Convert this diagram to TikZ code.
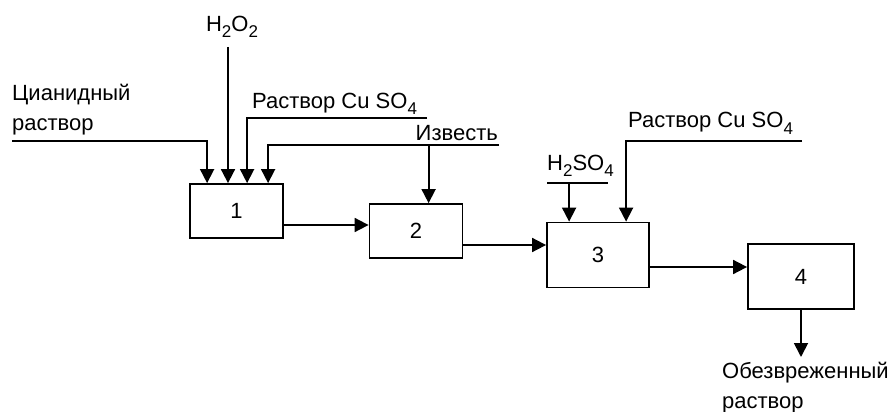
\documentclass[tikz,border=0pt]{standalone}
\usepackage{fontspec}
\setmainfont{Liberation Sans}
\usetikzlibrary{positioning,arrows.meta}
\newcommand{\lowidx}[1]{\raisebox{-6pt}{\fontsize{17}{17}\selectfont #1}}

\begin{document}
\begin{tikzpicture}[
  x=1pt, y=-1pt,
  >={Triangle[width=14pt,length=14pt]},
  every node/.style={font=\fontsize{22}{30}\selectfont, text=black},
  stagebox/.style={draw, line width=1.8pt, inner sep=0pt,
                   minimum width=#1},
  feedline/.style={line width=1.8pt},
  flow/.style={->, line width=1.8pt},
  feedlbl/.style={inner sep=0pt, align=left},
]
\useasboundingbox (0,0) rectangle (895,412);

% ── Stages ──
\node[stagebox=93pt, minimum height=54pt] (st1) at (236.5,211) {1};
\node[stagebox=93pt, minimum height=54pt] (st2) at (416,231) {2};
\node[stagebox=102pt, minimum height=65pt] (st3) at (598,255) {3};
\node[stagebox=106pt, minimum height=65pt] (st4) at (801,276.5) {4};

% ── Feed points ──
\coordinate (cyanin)  at (12,141);
\coordinate (h2o2in)  at (228,47);
\coordinate (cu1in)   at (427,118);
\coordinate (limein)  at (499,145);
\coordinate (acidL)   at (547,183);
\coordinate (acidR)   at (608,183);
\coordinate (cu2in)   at (802,141);
\coordinate (outend)  at (802,357);

\coordinate (st2lime) at ([xshift=60pt]st2.north west);
\coordinate (st3acid) at ([xshift=23pt]st3.north west);

% ── Labels ──
\node[feedlbl, anchor=base west] (cyanlbl) at (12,130) {Цианидный\\раствор};
\node[feedlbl, anchor=base] (h2o2lbl) at (232,32) {H\lowidx{2}O\lowidx{2}};
\node[feedlbl, anchor=base west] (cu1lbl) at (252,108) {Раствор Cu SO\lowidx{4}};
\node[feedlbl, anchor=base east] (limelbl) at (498,140) {Известь};
\node[feedlbl, anchor=base west] (acidlbl) at (547,170) {H\lowidx{2}SO\lowidx{4}};
\node[feedlbl, anchor=base west] (cu2lbl) at (628,128) {Раствор Cu SO\lowidx{4}};
\node[feedlbl, anchor=base west] (outlbl) at (722,408) {Обезвреженный\\раствор};

% ── Feeds into stage 1 ──
\draw[flow] (cyanin) -| ([xshift=18pt]st1.north west);
\draw[flow] (h2o2in) -- (h2o2in |- st1.north);
\draw[flow] (cu1in) -| ([xshift=58pt]st1.north west);
\draw[flow] (limein) -| ([xshift=79pt]st1.north west);

% ── Lime into stage 2 ──
\draw[flow] (st2lime |- limein) -- (st2lime);

% ── Feeds into stage 3 ──
\draw[feedline] (acidL) -- (acidR);
\draw[flow] (st3acid |- acidL) -- (st3acid);
\draw[flow] (cu2in) -| ([xshift=80pt]st3.north west);

% ── Stage to stage ──
\coordinate (o1) at ([yshift=-14pt]st1.east);
\coordinate (o2) at ([yshift=-14pt]st2.east);
\coordinate (o3) at ([yshift=-12pt]st3.east);
\draw[flow] (o1) -- (o1 -| st2.west);
\draw[flow] (o2) -- (o2 -| st3.west);
\draw[flow] (o3) -- (o3 -| st4.west);

% ── Output ──
\draw[flow] (st4.south) -- (st4.south |- outend);

\end{tikzpicture}
\end{document}
